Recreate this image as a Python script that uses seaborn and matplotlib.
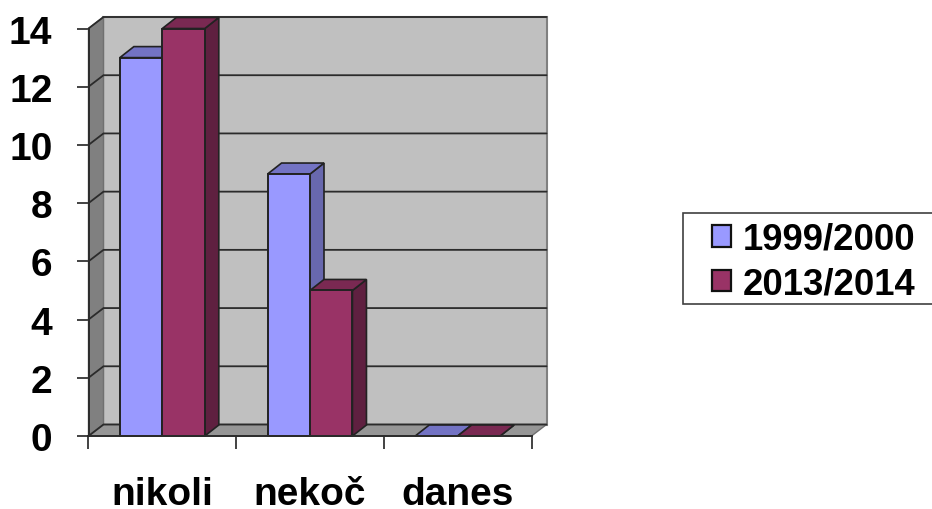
import matplotlib
matplotlib.use("Agg")
import matplotlib.pyplot as plt
import pandas as pd
import seaborn as sns
from matplotlib.patches import Polygon, Rectangle

categories = ["nikoli", "nekoč", "danes"]
series_names = ["1999/2000", "2013/2014"]
values_1999 = [13, 9, 0]
values_2013 = [14, 5, 0]
y_ticks = [0, 2, 4, 6, 8, 10, 12, 14]

front_colors = ["#9999FF", "#993366"]
top_colors = ["#7373C4", "#7A2952"]
side_colors = ["#6868AE", "#5F2040"]

W, H = 932, 510
sns.set_theme(style="white")
plt.rcParams["font.family"] = ["Liberation Sans", "DejaVu Sans"]
plt.rcParams["font.weight"] = "bold"
plt.rcParams["text.color"] = "black"

df = pd.DataFrame({
    "cat": categories * 2,
    "series": [series_names[0]] * 3 + [series_names[1]] * 3,
    "value": values_1999 + values_2013,
})

fig = plt.figure(figsize=(W / 100, H / 100), dpi=100, facecolor="white")
left, right, y0, y14 = 88.5, 531.5, 437, 29.5
ax = fig.add_axes([left / W, 1 - y0 / H, (right - left) / W, (y0 - y14) / H])

sns.barplot(data=df, x="cat", y="value", hue="series", order=categories,
            hue_order=series_names, palette=front_colors, width=0.575, gap=0,
            dodge=True, saturation=1, edgecolor="#222222", linewidth=1.4,
            legend=False, ax=ax, zorder=6)
ax.set_xlim(-0.5, 2.5)
ax.set_ylim(0, 14)

# 3-D depth expressed in data units
px_x = 3 / (right - left)
px_y = 14 / (y0 - y14)
DX, DY = 15 * px_x, 11.5 * px_y
BX, BY = 14 * px_x, 11 * px_y


def poly(points, face, z, edge="none", lw=0):
    ax.add_patch(Polygon(points, closed=True, facecolor=face, edgecolor=edge,
                         linewidth=lw, zorder=z, clip_on=False))


xa, xb = -0.5, 2.5
top = max(y_ticks)
poly([(xa + DX, DY), (xb + DX, DY), (xb + DX, top + DY), (xa + DX, top + DY)],
     "#C0C0C0", 1, "#808080", 1.5)
poly([(xa, 0), (xa + DX, DY), (xa + DX, top + DY), (xa, top)], "#808080", 2, "#707070", 1)
poly([(xa, 0), (xb, 0), (xb + DX, DY), (xa + DX, DY)], "#969696", 2, "#707070", 1)

for t in y_ticks:
    ax.plot([xa, xa + DX, xb + DX], [t, t + DY, t + DY], color="#2b2b2b", lw=1.3,
            zorder=3, clip_on=False, solid_joinstyle="miter")

# Bar tops and sides, series by series, each taken from the drawn front face
for s, container in enumerate(ax.containers):
    for bar in container:
        x0, w, h = bar.get_x(), bar.get_width(), bar.get_height()
        x1 = x0 + w
        z = 4 + s
        bar.set_zorder(z + 0.5)
        bar.set_clip_on(False)
        poly([(x1, 0), (x1 + BX, BY), (x1 + BX, h + BY), (x1, h)], side_colors[s], z,
             "#222222", 1.2)
        poly([(x0, h), (x1, h), (x1 + BX, h + BY), (x0 + BX, h + BY)], top_colors[s], z + 0.2,
             "#222222", 1.2)

ax.set_xlabel("")
ax.set_ylabel("")
ax.set_yticks(y_ticks)
ax.set_xticks(range(len(categories)))
ax.set_xticklabels(categories)
ax.set_xticks([-0.5, 0.5, 1.5, 2.5], minor=True)
ax.tick_params(axis="y", which="major", left=True, length=8.5, width=1.2, color="#222222",
               labelsize=28, pad=17.5, labelcolor="black")
ax.tick_params(axis="x", which="major", bottom=False, length=0, labelsize=28, pad=29,
               labelcolor="black")
ax.tick_params(axis="x", which="minor", bottom=True, length=9.5, width=1.2, color="#222222")
for name in ("top", "right"):
    ax.spines[name].set_visible(False)
for name in ("left", "bottom"):
    ax.spines[name].set_visible(True)
    ax.spines[name].set_color("#2b2b2b")
    ax.spines[name].set_linewidth(1.4)
    ax.spines[name].set_zorder(7)
ax.patch.set_visible(False)

fig.add_artist(Rectangle((683 / W, 1 - 305 / H), 260 / W, 91 / H, transform=fig.transFigure,
                         facecolor="white", edgecolor="#404040", linewidth=1.2))
handles = [Rectangle((0, 0), 1, 1, facecolor=c, edgecolor="#111111", linewidth=1.6)
           for c in front_colors]
leg = fig.legend(handles, series_names, loc="center left",
                 bbox_to_anchor=(712 / W, 1 - 262.5 / H), frameon=False, fontsize=26.3,
                 handlelength=0.53, handleheight=0.53, handletextpad=0.3,
                 labelspacing=0.26, borderpad=0, borderaxespad=0, labelcolor="black")
leg.set_zorder(10)

fig.savefig("out.png", dpi=100, facecolor="white")
